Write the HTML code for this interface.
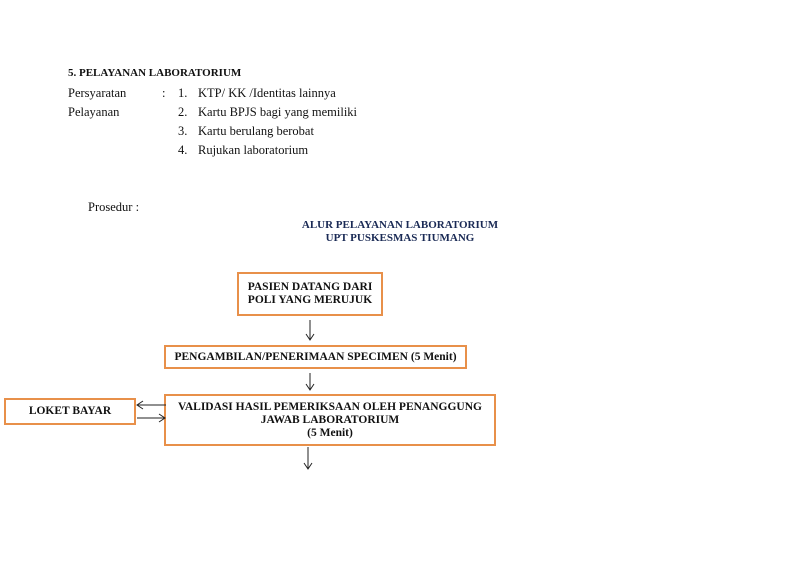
<!DOCTYPE html>
<html><head><style>
body{margin:0;width:800px;height:565px;background:#fff;position:relative;overflow:hidden;font-family:"Liberation Serif",serif;color:#111}
.t{position:absolute;font-size:12.5px;white-space:nowrap}
.b{position:absolute;border:2.5px solid #e8904a;box-sizing:border-box;font-weight:bold;font-size:11.5px;text-align:center;line-height:13px;display:flex;align-items:center;justify-content:center}
</style></head><body>
<div class="t" style="left:68px;top:67px;font-weight:bold;font-size:11px">5. PELAYANAN LABORATORIUM</div>
<div class="t" style="left:68px;top:86px">Persyaratan</div>
<div class="t" style="left:162px;top:86px">:</div>
<div class="t" style="left:68px;top:105px">Pelayanan</div>
<div class="t" style="left:178px;top:86px">1.</div><div class="t" style="left:198px;top:86px">KTP/ KK /Identitas lainnya</div>
<div class="t" style="left:178px;top:105px">2.</div><div class="t" style="left:198px;top:105px">Kartu BPJS bagi yang memiliki</div>
<div class="t" style="left:178px;top:124px">3.</div><div class="t" style="left:198px;top:124px">Kartu berulang berobat</div>
<div class="t" style="left:178px;top:143px">4.</div><div class="t" style="left:198px;top:143px">Rujukan laboratorium</div>
<div class="t" style="left:88px;top:200px">Prosedur :</div>
<div class="t" style="left:280px;top:219px;width:240px;text-align:center;font-weight:bold;font-size:11px;line-height:13px;color:#1a2a55">ALUR PELAYANAN LABORATORIUM<br>UPT PUSKESMAS TIUMANG</div>
<div class="b" style="left:237px;top:272px;width:146px;height:44px">PASIEN DATANG DARI<br>POLI YANG MERUJUK</div>
<div class="b" style="left:164px;top:345px;width:303px;height:24px">PENGAMBILAN/PENERIMAAN SPECIMEN (5 Menit)</div>
<div class="b" style="left:164px;top:394px;width:332px;height:52px;align-items:flex-start;padding-top:5px">VALIDASI HASIL PEMERIKSAAN OLEH PENANGGUNG<br>JAWAB LABORATORIUM<br>(5 Menit)</div>
<div class="b" style="left:4px;top:398px;width:132px;height:27px">LOKET BAYAR</div>
<svg width="800" height="565" style="position:absolute;left:0;top:0" fill="none" stroke="#222" stroke-width="1">
<path d="M310 320V340M306 334L310 340L314 334"/>
<path d="M310 373V390M306 384L310 390L314 384"/>
<path d="M308 447V469M304 463L308 469L312 463"/>
<path d="M166 405H137M143 401L137 405L143 409"/>
<path d="M137 418H165M159 414L165 418L159 422"/>
</svg>
</body></html>
